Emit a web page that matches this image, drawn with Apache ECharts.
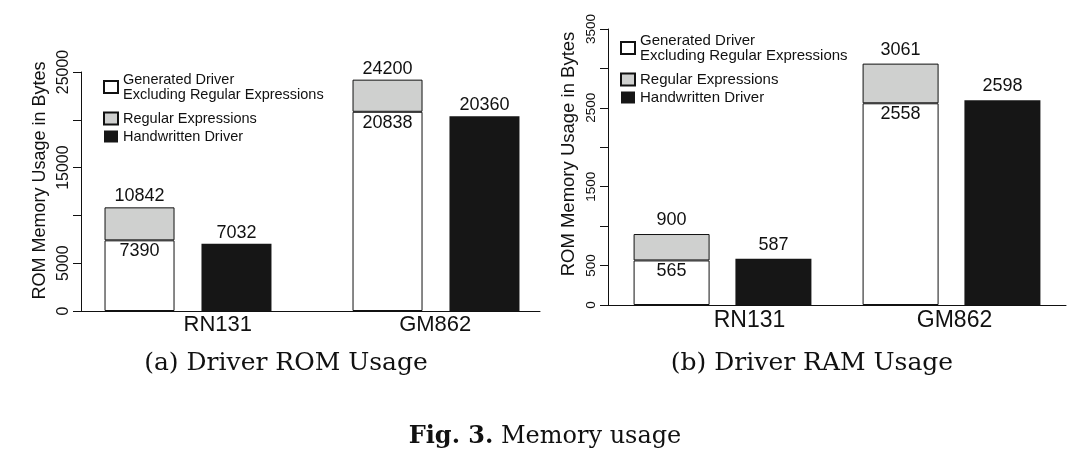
<!DOCTYPE html>
<html>
<head>
<meta charset="utf-8">
<script src="https://cdn.jsdelivr.net/npm/echarts@6/dist/echarts.min.js"></script>
<style>
html,body{margin:0;padding:0;background:#fff;}
#main{width:1090px;height:463px;}
</style>
</head>
<body>
<div id="main"></div>
<script>
// ---- data ----
const categories = ['RN131', 'GM862'];
const seriesNames = ['Generated Driver Excluding Regular Expressions', 'Regular Expressions', 'Handwritten Driver'];
const romGenerated = [7390, 20838];
const romTotal = [10842, 24200];
const romHandwritten = [7032, 20360];
const ramGenerated = [565, 2558];
const ramTotal = [900, 3061];
const ramHandwritten = [587, 2598];
const romTickLabels = [0, 5000, 15000, 25000];
const ramTickLabels = [0, 500, 1500, 2500, 3500];
const yAxisTitle = 'ROM Memory Usage in Bytes';
const subTitles = ['(a) Driver ROM Usage', '(b) Driver RAM Usage'];
const captionBold = 'Fig. 3.';
const captionText = 'Memory usage';

// ---- styles ----
const SANS = '"Liberation Sans", Arial, Helvetica, sans-serif';
const SERIF = '"DejaVu Serif", "Liberation Serif", serif';
const INK = '#111';
const GREY = '#cfd0cf';
const BLACK = '#161616';
const labelShift = { 1: [44, 20], 2: [54, 6] };

const chart = echarts.init(document.getElementById('main'));

function visibleXAxis(idx, fs, margin) {
  return {
    type: 'category', gridIndex: idx,
    data: categories.map((c, i) => ({ value: c, textStyle: { padding: [0, 0, 0, labelShift[idx][i]] } })),
    axisLine: { lineStyle: { color: INK, width: 1 } },
    axisTick: { show: false },
    axisLabel: { color: INK, fontFamily: SANS, fontSize: fs, margin: margin },
    splitLine: { show: false }
  };
}
function visibleYAxis(idx, max, interval, shown, fs, margin, nameGap, nameSize, namePad) {
  return {
    type: 'value', gridIndex: idx, min: 0, max: max, interval: interval,
    name: yAxisTitle, nameLocation: 'middle', nameGap: nameGap,
    nameTextStyle: { color: INK, fontFamily: SANS, fontSize: nameSize, padding: [0, 0, 0, namePad] },
    axisLine: { show: true, lineStyle: { color: INK, width: 1 } },
    axisTick: { show: true, length: 8, lineStyle: { color: INK } },
    axisLabel: {
      rotate: 90, color: INK, fontFamily: SANS, fontSize: fs, margin: margin,
      showMinLabel: true, showMaxLabel: true, hideOverlap: false,
      formatter: v => shown.indexOf(v) >= 0 ? String(v) : ''
    },
    splitLine: { show: false }
  };
}
function seriesFor(xi, yi, gen, total, hand, barWidth, barGap, fs, topDist) {
  const lbl = { color: INK, fontFamily: SANS, fontSize: fs };
  const stack = 's' + xi;
  return [
    {
      name: seriesNames[0], type: 'bar', stack: stack, xAxisIndex: xi, yAxisIndex: yi,
      data: gen, barWidth: barWidth, barGap: barGap,
      itemStyle: { color: '#ffffff', borderColor: INK, borderWidth: 1 },
      label: Object.assign({ show: true, position: 'insideTop', distance: 2 }, lbl),
      emphasis: { disabled: true }
    },
    {
      name: seriesNames[1], type: 'bar', stack: stack, xAxisIndex: xi, yAxisIndex: yi,
      data: total.map((t, i) => t - gen[i]), barWidth: barWidth, barGap: barGap,
      itemStyle: { color: GREY, borderColor: INK, borderWidth: 1 },
      label: Object.assign({ show: true, position: 'top', distance: topDist, formatter: p => String(total[p.dataIndex]) }, lbl),
      emphasis: { disabled: true }
    },
    {
      name: seriesNames[2], type: 'bar', xAxisIndex: xi, yAxisIndex: yi,
      data: hand, barWidth: barWidth, barGap: barGap,
      itemStyle: { color: BLACK },
      label: Object.assign({ show: true, position: 'top', distance: topDist }, lbl),
      emphasis: { disabled: true }
    }
  ];
}
function legendFor(left, top, fs) {
  return {
    left: left, top: top, padding: 0, orient: 'vertical', itemWidth: 14, itemHeight: 12, itemGap: 3,
    icon: 'rect', selectedMode: false,
    data: [
      { name: seriesNames[0], textStyle: { padding: [6, 0, 6, 0] } },
      { name: seriesNames[1] },
      { name: seriesNames[2] }
    ],
    formatter: n => n === seriesNames[0] ? 'Generated Driver\nExcluding Regular Expressions' : n,
    textStyle: { color: INK, fontFamily: SANS, fontSize: fs, lineHeight: 15 }
  };
}

const option = {
  backgroundColor: '#ffffff',
  animation: false,
  grid: [
    { left: 64, top: 72, width: 496, height: 239 },   // ROM bars
    { left: 81, top: 72, width: 459, height: 239 },   // ROM axes
    { left: 608, top: 29, width: 458, height: 276 }   // RAM
  ],
  xAxis: [
    { type: 'category', gridIndex: 0, data: categories, show: false },
    visibleXAxis(1, 22, 3),
    visibleXAxis(2, 23, 4)
  ],
  yAxis: [
    { type: 'value', gridIndex: 0, min: 0, max: 25000, interval: 5000, show: false },
    visibleYAxis(1, 25000, 5000, romTickLabels, 16, 9, 32, 18, 22),
    visibleYAxis(2, 3500, 500, ramTickLabels, 13.5, 10, 30, 18.5, 26)
  ],
  legend: [legendFor(103, 66, 14.5), legendFor(620, 27, 15)],
  series: [].concat(
    seriesFor(0, 0, romGenerated, romTotal, romHandwritten, 70, '38.5%', 18, 2),
    seriesFor(2, 2, ramGenerated, ramTotal, ramHandwritten, 76, '34%', 18, 5)
  ),
  graphic: [
    { type: 'text', x: 286, y: 363, style: { text: subTitles[0], font: '25px ' + SERIF, fill: INK, align: 'center', verticalAlign: 'middle' } },
    { type: 'text', x: 812, y: 363, style: { text: subTitles[1], font: '25px ' + SERIF, fill: INK, align: 'center', verticalAlign: 'middle' } },
    { type: 'text', x: 545, y: 437, style: {
        text: '{b|' + captionBold + '} ' + captionText, font: '24px ' + SERIF, fill: INK,
        align: 'center', verticalAlign: 'middle',
        rich: { b: { fontFamily: SERIF, fontSize: 24, fontWeight: 'bold', fill: INK } } } }
  ]
};
chart.setOption(option);
</script>
</body>
</html>
